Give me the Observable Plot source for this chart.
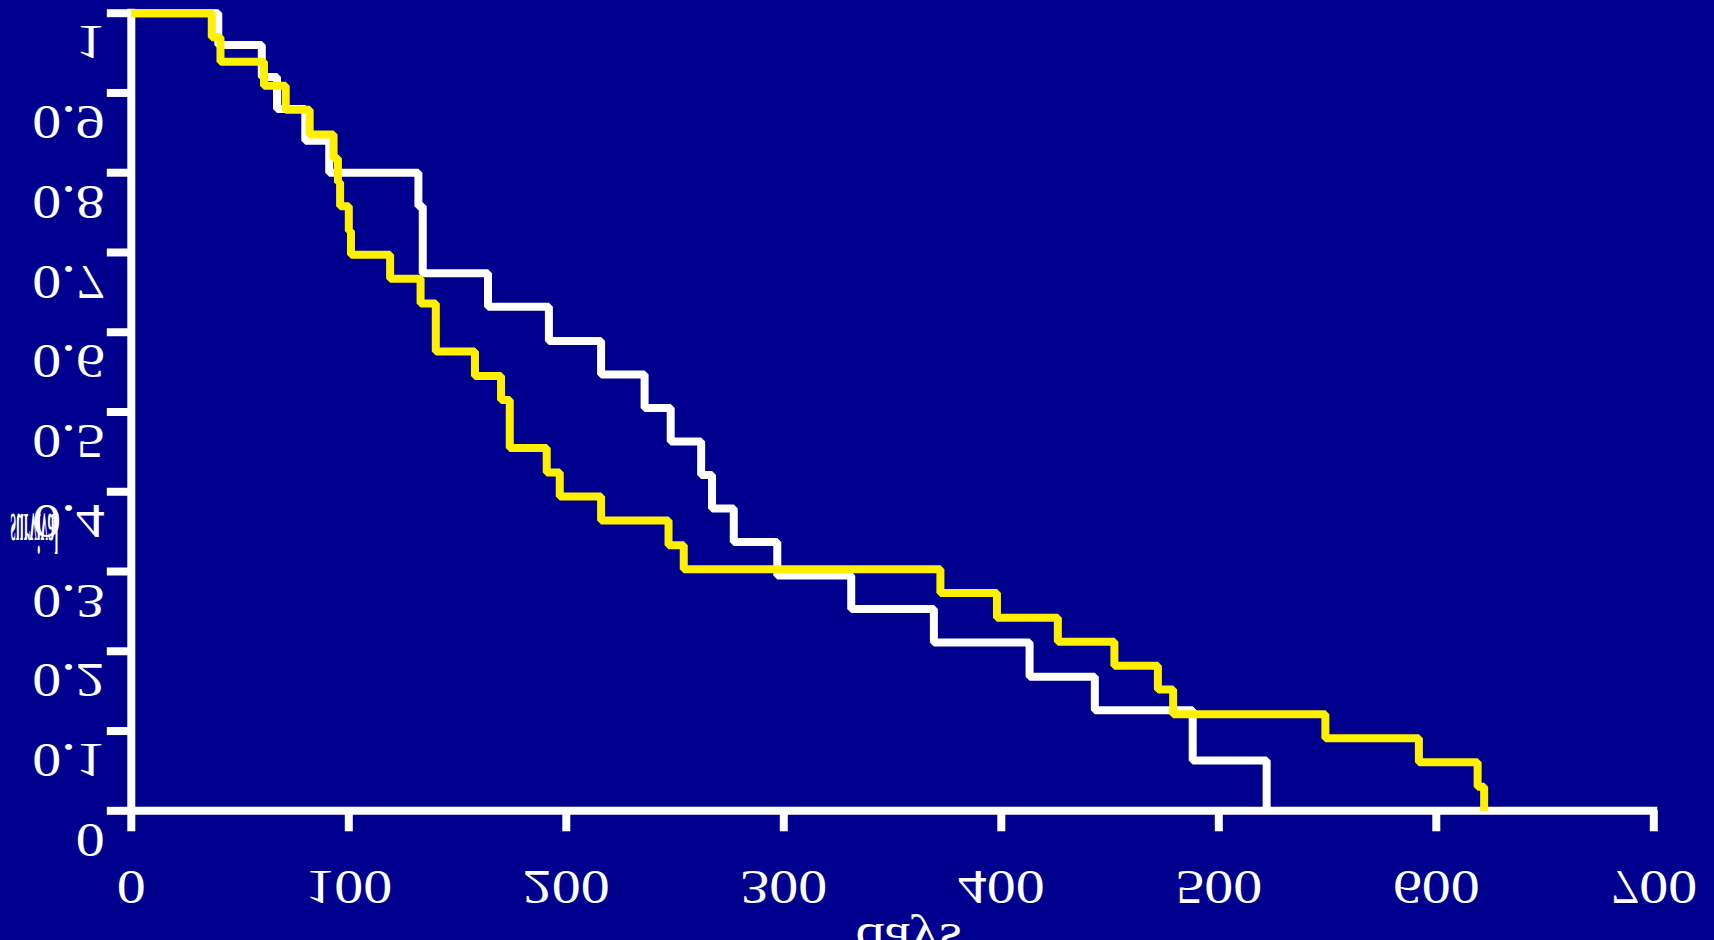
<!DOCTYPE html>
<html>
<head>
<meta charset="utf-8">
<script src="https://cdn.jsdelivr.net/npm/d3@7"></script>
<script src="https://cdn.jsdelivr.net/npm/@observablehq/plot@0.6"></script>
<style>
  html, body { margin: 0; padding: 0; background: #00008F; overflow: hidden; }
  #chart svg { display: block; }
</style>
</head>
<body>
<div id="chart"></div>
<script>
// ---- data (days, survival fraction) ----
const whiteDays = [0, 40, 60, 67, 80, 91, 132, 134, 164, 192, 216, 236, 248, 262, 267, 277, 297, 331, 369, 413, 443, 488, 522];
const whiteSurv = [1, 0.96, 0.92, 0.88, 0.84, 0.80, 0.758, 0.674, 0.632, 0.589, 0.547, 0.505, 0.463, 0.421, 0.379, 0.337, 0.295, 0.253, 0.211, 0.168, 0.126, 0.063, 0];

const yellowDays = [0, 37, 41, 61, 71, 82, 93, 95, 96, 100, 101, 119, 133, 140, 158, 170, 174, 191, 197, 216, 247, 254, 372, 398, 426, 452, 472, 479, 549, 592, 619, 622];
const yellowSurv = [1, 0.970, 0.939, 0.909, 0.879, 0.848, 0.818, 0.788, 0.758, 0.727, 0.697, 0.667, 0.636, 0.576, 0.545, 0.515, 0.455, 0.424, 0.394, 0.364, 0.333, 0.303, 0.273, 0.242, 0.212, 0.182, 0.152, 0.121, 0.091, 0.061, 0.030, 0];

const xTickValues = [0, 100, 200, 300, 400, 500, 600, 700];
const xTickLabels = ["0", "100", "200", "300", "400", "500", "600", "700"];
const yTickValues = [0, 0.1, 0.2, 0.3, 0.4, 0.5, 0.6, 0.7, 0.8, 0.9, 1];
const yTickLabels = ["0", "0.1", "0.2", "0.3", "0.4", "0.5", "0.6", "0.7", "0.8", "0.9", "1"];
const xTitle = "days";
const yTitle = "survival";

// ---- build tables ----
const toRows = (days, surv) => days.map((d, i) => ({day: d, surv: surv[i]}));
const whiteRows = toRows(whiteDays, whiteSurv);
const yellowRows = toRows(yellowDays, yellowSurv);
const yTickRows = yTickValues.map((v, i) => ({v, label: yTickLabels[i]}));
const xTickRows = xTickValues.map((v, i) => ({v, label: xTickLabels[i]}));

const FONT = "'Liberation Serif', 'Times New Roman', serif";
const BG = "#00008F";
const YELLOW = "#FFF000";

const plot = Plot.plot({
  width: 1714,
  height: 940,
  marginLeft: 130.8,
  marginRight: 60.7,
  marginTop: 12.7,
  marginBottom: 129.7,
  x: {domain: [0, 700]},
  y: {domain: [0, 1]},
  style: {background: BG, color: "white", fontFamily: FONT, fontSize: "58px", overflow: "hidden"},
  marks: [
    Plot.axisX({ticks: xTickValues, tickSize: 21, tickFormat: () => "", label: null, color: "white", stroke: "white", strokeWidth: 8}),
    Plot.axisY({ticks: yTickValues, tickSize: 24, tickFormat: () => "", label: null, color: "white", stroke: "white", strokeWidth: 8}),
    Plot.ruleX([0], {stroke: "white", strokeWidth: 8, strokeLinecap: "square"}),
    Plot.ruleY([0], {stroke: "white", strokeWidth: 8, strokeLinecap: "square"}),
    Plot.line(whiteRows, {x: "day", y: "surv", curve: "step-after", stroke: "white", strokeWidth: 8, strokeLinejoin: "miter", strokeLinecap: "butt"}),
    Plot.line(yellowRows, {x: "day", y: "surv", curve: "step-after", stroke: YELLOW, strokeWidth: 8, strokeLinejoin: "miter", strokeLinecap: "butt"}),
    Plot.text(yTickRows, {y: "v", text: "label", frameAnchor: "left", textAnchor: "end", lineAnchor: "bottom", dx: -26.5, dy: 13.2, fill: "white", fontSize: 58, fontFamily: FONT}),
    Plot.text(xTickRows, {x: "v", text: "label", frameAnchor: "bottom", textAnchor: "middle", lineAnchor: "bottom", dy: 59.7, fill: "white", fontSize: 58, fontFamily: FONT}),
    Plot.text([xTitle], {text: d => d, frameAnchor: "bottom", textAnchor: "middle", lineAnchor: "bottom", dx: 16, dy: 112.7, fill: "white", fontSize: 58, fontFamily: FONT}),
    Plot.text([yTitle], {text: d => d, frameAnchor: "left", textAnchor: "start", lineAnchor: "bottom", dx: -120.8, dy: 101.5, fill: "white", fontSize: 58, fontWeight: "bold", fontFamily: FONT})
  ]
});

// mirror every label vertically about its baseline, as in the reference
plot.querySelectorAll("text").forEach(t => {
  const content = t.textContent;
  if (!content) return;
  const isYTitle = content === yTitle;
  const sx = isYTitle ? 0.24 : 1;
  const sy = isYTitle ? -1.0 : -0.83;
  let tr = t.getAttribute("transform");
  if (!tr) {
    const x = parseFloat(t.getAttribute("x")) || 0;
    const y = parseFloat(t.getAttribute("y")) || 0;
    t.removeAttribute("x");
    t.removeAttribute("y");
    tr = `translate(${x},${y})`;
  }
  t.setAttribute("transform", `${tr} scale(${sx},${sy})`);
});

document.getElementById("chart").appendChild(plot);
</script>
</body>
</html>
